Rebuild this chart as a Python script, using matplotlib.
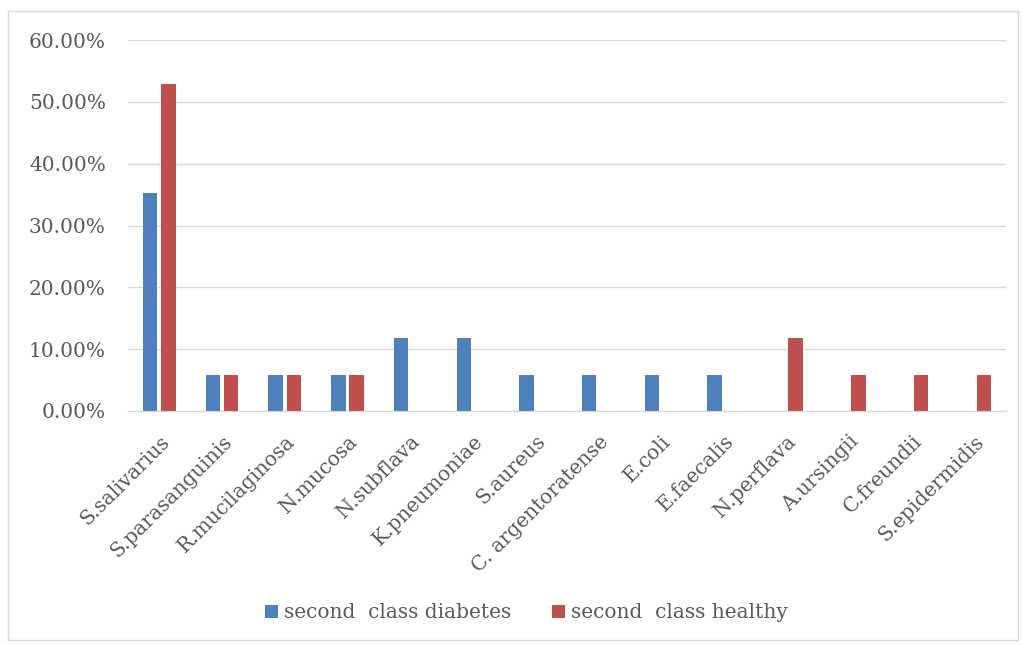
import numpy as np
import matplotlib.pyplot as plt
from matplotlib.ticker import FuncFormatter
from matplotlib.patches import Rectangle

# Bakteriya turlari va ulushlari
species = ['S.salivarius', 'S.parasanguinis', 'R.mucilaginosa', 'N.mucosa',
           'N.subflava', 'K.pneumoniae', 'S.aureus', 'C. argentoratense',
           'E.coli', 'E.faecalis', 'N.perflava', 'A.ursingii', 'C.freundii',
           'S.epidermidis']
diabetes = [35.29, 5.88, 5.88, 5.88, 11.76, 11.76, 5.88, 5.88, 5.88, 5.88,
            0, 0, 0, 0]
healthy = [52.94, 5.88, 5.88, 5.88, 0, 0, 0, 0, 0, 0,
           11.76, 5.88, 5.88, 5.88]

plt.rcParams['font.family'] = ['DejaVu Serif']
txt = '#595959'

fig = plt.figure(figsize=(10.22, 6.45), dpi=100)
ax = fig.add_axes([128 / 1022, 1 - 411 / 645, 878 / 1022, 371 / 645])

x = np.arange(len(species))
w = 0.23
ax.bar(x - w / 2 - 0.03, diabetes, w, color='#4F81BD', label='second  class diabetes')
ax.bar(x + w / 2 + 0.03, healthy, w, color='#C0504D', label='second  class healthy')

ax.set_xlim(-0.5, len(species) - 0.5)
ax.set_ylim(0, 60)
ax.set_yticks(np.arange(0, 61, 10))
ax.yaxis.set_major_formatter(FuncFormatter(lambda v, p: f'{v:.2f}%'))
ax.grid(axis='y', color='#D9D9D9', linewidth=1)
ax.set_axisbelow(True)
for s in ['top', 'right', 'left']:
    ax.spines[s].set_visible(False)
ax.spines['bottom'].set_color('#D9D9D9')
ax.tick_params(axis='both', length=0, labelsize=14.5, colors=txt)
ax.tick_params(axis='y', pad=16)
ax.set_xticks(x)
ax.set_xticklabels(species, rotation=45, ha='right', rotation_mode='anchor')
ax.tick_params(axis='x', pad=15)

fig.legend(loc='center', bbox_to_anchor=(0.515, 1 - 613 / 645), ncol=2,
           frameon=False, fontsize=14.5, labelcolor=txt, handlelength=0.65,
           handleheight=0.65, handletextpad=0.3, columnspacing=2.0)

# diagramma ramkasi
fig.patches.append(Rectangle((8 / 1022, 5 / 645), 1010 / 1022, 629 / 645,
                             transform=fig.transFigure, fill=False,
                             edgecolor='#D9D9D9', linewidth=1))

plt.savefig('out.png', dpi=100)
